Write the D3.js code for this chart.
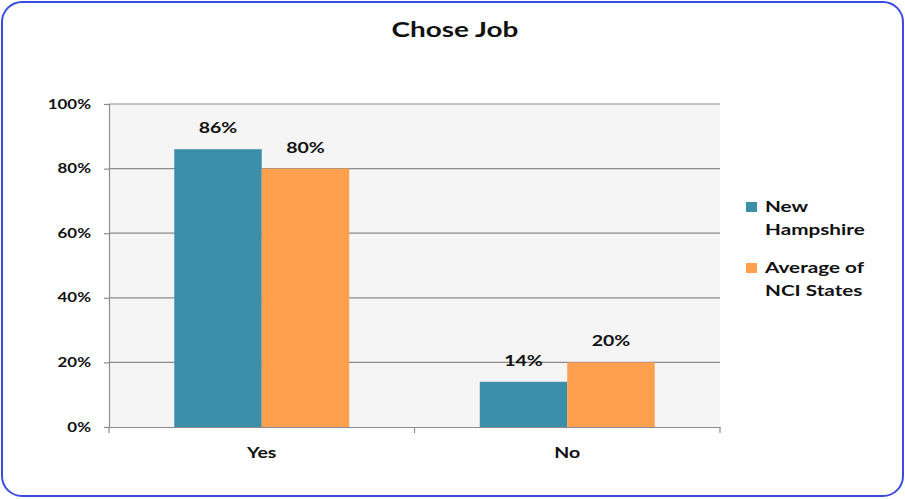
<!DOCTYPE html>
<html><head><meta charset="utf-8">
<script src="https://cdn.jsdelivr.net/npm/d3@7"></script>
<style>body{margin:0;background:#fff}svg{display:block;font-family:Lato,"Open Sans",sans-serif}</style>
</head><body>
<svg id="c" width="905" height="499"></svg>
<script>
const categories = ["Yes", "No"];
const seriesNames = ["New Hampshire", "Average of NCI States"];
const newHampshire = [86, 14];
const nciAverage = [80, 20];
const yTicks = [0, 20, 40, 60, 80, 100];
const colors = ["#3b8fa8", "#ffa04f"];
const legendLines = [["New", "Hampshire"], ["Average of", "NCI States"]];

const svg = d3.select("#c");
const m = {l:109, r:720, t:104, b:427};

// horizontally stretch a text about its x anchor
function stretch(sel, sx) {
  sel.each(function() {
    const t = d3.select(this);
    const x0 = +(t.attr("x") || 0);
    t.attr("transform", `translate(${x0*(1-sx)},0) scale(${sx},1)`);
  });
}

svg.append("rect").attr("x",2).attr("y",2).attr("width",901).attr("height",494)
  .attr("rx",20).attr("fill","#fff").attr("stroke","#3a4de0").attr("stroke-width",2);

svg.append("text").attr("x",455).attr("y",37).attr("text-anchor","middle")
  .attr("font-size",21).attr("font-weight","bold").attr("fill","#111").text("Chose Job")
  .call(stretch, 1.33);

const x = d3.scaleBand().domain(categories).range([m.l, m.r]).paddingInner(0).paddingOuter(0);
const y = d3.scaleLinear().domain([0,100]).range([m.b, m.t]);
const x1 = d3.scaleBand().domain(seriesNames).range([0, x.bandwidth()]).paddingInner(0).paddingOuter(0.746);

svg.append("rect").attr("x",m.l).attr("y",m.t).attr("width",m.r-m.l).attr("height",m.b-m.t).attr("fill","#f5f5f5");

// gridlines
svg.append("g").selectAll("line").data(yTicks.filter(d=>d>0)).join("line")
  .attr("x1",m.l).attr("x2",m.r).attr("y1",d=>y(d)).attr("y2",d=>y(d))
  .attr("stroke","#8c8c8c").attr("stroke-width",1.2);

// y axis
const ya = svg.append("g").attr("transform",`translate(${m.l},0)`)
  .call(d3.axisLeft(y).tickValues(yTicks).tickFormat(d=>d+"%").tickSize(5).tickPadding(13));
ya.select(".domain").attr("stroke","#8c8c8c").attr("stroke-width",1.2);
ya.selectAll(".tick line").attr("stroke","#8c8c8c").attr("stroke-width",1.2);
ya.selectAll("text").attr("font-size",13).attr("font-weight","bold").attr("fill","#111")
  .attr("font-family","Lato,'Open Sans',sans-serif").call(stretch, 1.3);

// bars
const series = [newHampshire, nciAverage];
const g = svg.append("g");
series.forEach((vals, si) => {
  g.selectAll(null).data(categories).join("rect")
    .attr("x", c => x(c) + x1(seriesNames[si]))
    .attr("y", (c,i) => y(vals[i]))
    .attr("width", x1.bandwidth())
    .attr("height", (c,i) => y(0) - y(vals[i]))
    .attr("fill", colors[si]);
  g.selectAll(null).data(categories).join("text")
    .attr("x", c => x(c) + x1(seriesNames[si]) + x1.bandwidth()/2)
    .attr("y", (c,i) => y(vals[i]) - 16)
    .attr("text-anchor","middle").attr("font-size",15).attr("font-weight","bold").attr("fill","#111")
    .text((c,i) => vals[i] + "%")
    .call(stretch, 1.3);
});

// x axis
const xa = svg.append("g").attr("transform",`translate(0,${m.b})`)
  .call(d3.axisBottom(x).tickSize(0).tickFormat(()=>""));
xa.select(".domain").attr("stroke","#8c8c8c").attr("stroke-width",1.2);
svg.append("g").selectAll("text").data(categories).join("text")
  .attr("x", c => x(c) + x.bandwidth()/2).attr("y", 458)
  .attr("text-anchor","middle").attr("font-size",15).attr("font-weight","bold").attr("fill","#111")
  .text(c => c).call(stretch, 1.3);
const bounds = [m.l, x("No"), m.r];
svg.append("g").selectAll("line").data(bounds).join("line")
  .attr("x1",d=>d).attr("x2",d=>d).attr("y1",m.b).attr("y2",m.b+6)
  .attr("stroke","#8c8c8c").attr("stroke-width",1.2);

// legend
const lg = svg.append("g");
legendLines.forEach((lines, i) => {
  const y0 = 202 + i*61;
  lg.append("rect").attr("x",746).attr("y",y0).attr("width",11).attr("height",10).attr("fill",colors[i]);
  lines.forEach((t, j) => {
    lg.append("text").attr("x",765).attr("y",y0 + 10 + j*23.5).attr("font-size",15)
      .attr("font-weight","bold").attr("fill","#111").text(t).call(stretch, 1.38);
  });
});
</script>
</body></html>
